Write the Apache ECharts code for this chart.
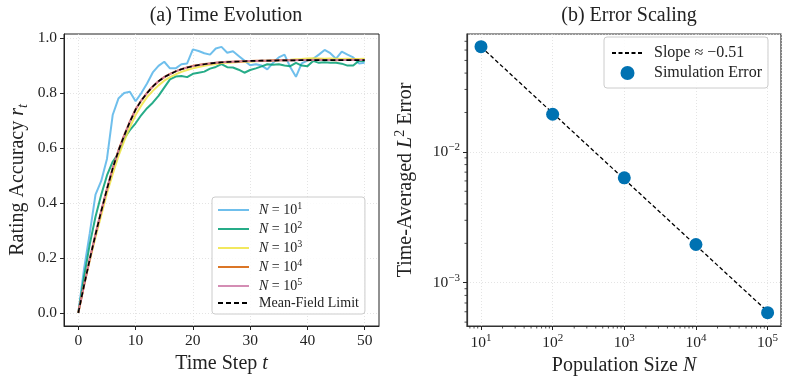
<!DOCTYPE html>
<html>
<head>
<meta charset="utf-8">
<script src="https://cdn.jsdelivr.net/npm/echarts@6/dist/echarts.min.js"></script>
<style>
html, body { margin: 0; padding: 0; background: #fff; }
#chart { width: 793px; height: 385px; }
</style>
</head>
<body>
<div id="chart"></div>
<script>
// (a) rating accuracy per time step t = 0..50
const meanField = [
  0.000, 0.100, 0.195, 0.285, 0.370, 0.450, 0.525, 0.590, 0.645, 0.695,
  0.740, 0.773, 0.800, 0.824, 0.843, 0.858, 0.869, 0.879, 0.887, 0.893,
  0.898, 0.902, 0.905, 0.908, 0.910, 0.912, 0.913, 0.914, 0.915, 0.916,
  0.917, 0.917, 0.918, 0.918, 0.918, 0.919, 0.919, 0.919, 0.919, 0.920,
  0.920, 0.920, 0.920, 0.920, 0.920, 0.920, 0.920, 0.920, 0.920, 0.920,
  0.920
];
const acc10 = [
  0.000, 0.160, 0.290, 0.430, 0.480, 0.560, 0.720, 0.780, 0.800, 0.805,
  0.770, 0.800, 0.835, 0.875, 0.899, 0.914, 0.890, 0.890, 0.905, 0.908,
  0.959, 0.953, 0.945, 0.940, 0.962, 0.968, 0.947, 0.952, 0.935, 0.918,
  0.901, 0.905, 0.900, 0.886, 0.910, 0.930, 0.940, 0.895, 0.859, 0.908,
  0.918, 0.925, 0.940, 0.957, 0.945, 0.925, 0.951, 0.940, 0.930, 0.908,
  0.910
];
const acc100 = [
  0.000, 0.130, 0.250, 0.350, 0.430, 0.500, 0.550, 0.580, 0.635, 0.665,
  0.690, 0.720, 0.745, 0.765, 0.790, 0.820, 0.850, 0.860, 0.862, 0.858,
  0.870, 0.874, 0.878, 0.889, 0.895, 0.905, 0.894, 0.893, 0.885, 0.874,
  0.884, 0.890, 0.897, 0.905, 0.903, 0.905, 0.900, 0.898, 0.910, 0.900,
  0.898, 0.917, 0.910, 0.912, 0.910, 0.910, 0.907, 0.900, 0.900, 0.918,
  0.917
];
const acc1000 = [
  0.000, 0.100, 0.190, 0.275, 0.355, 0.435, 0.505, 0.570, 0.625, 0.675,
  0.720, 0.755, 0.785, 0.808, 0.828, 0.845, 0.858, 0.868, 0.877, 0.884,
  0.890, 0.895, 0.899, 0.903, 0.906, 0.909, 0.910, 0.911, 0.913, 0.915,
  0.914, 0.916, 0.917, 0.918, 0.917, 0.919, 0.920, 0.921, 0.923, 0.924,
  0.926, 0.927, 0.926, 0.925, 0.926, 0.925, 0.924, 0.925, 0.924, 0.924,
  0.925
];
const acc10000 = [
  0.000, 0.100, 0.196, 0.286, 0.371, 0.451, 0.526, 0.591, 0.646, 0.696,
  0.741, 0.773, 0.801, 0.824, 0.843, 0.858, 0.870, 0.879, 0.887, 0.893,
  0.899, 0.902, 0.906, 0.908, 0.910, 0.912, 0.914, 0.914, 0.915, 0.916,
  0.917, 0.918, 0.918, 0.918, 0.919, 0.919, 0.920, 0.919, 0.920, 0.920,
  0.919, 0.920, 0.921, 0.920, 0.920, 0.919, 0.920, 0.920, 0.921, 0.920,
  0.920
];
const acc100000 = [
  0.000, 0.100, 0.195, 0.285, 0.370, 0.450, 0.525, 0.590, 0.645, 0.695,
  0.740, 0.773, 0.800, 0.824, 0.843, 0.858, 0.869, 0.879, 0.887, 0.893,
  0.898, 0.902, 0.905, 0.908, 0.910, 0.912, 0.913, 0.914, 0.915, 0.916,
  0.917, 0.917, 0.918, 0.918, 0.918, 0.919, 0.919, 0.919, 0.919, 0.920,
  0.920, 0.920, 0.920, 0.920, 0.920, 0.920, 0.920, 0.920, 0.920, 0.920,
  0.920
];
const timeTicks = [0, 10, 20, 30, 40, 50];
const accTicks = [0, 0.2, 0.4, 0.6, 0.8, 1.0];

// (b) error vs population size
const popSizes = [10, 100, 1000, 10000, 100000];
const simError = [0.0637, 0.0194, 0.00634, 0.00196, 0.00059];
const slopeFit = [0.0636, 0.0198, 0.00618, 0.00193, 0.000602];
const slopeLabel = 'Slope \u2248 \u22120.51';

const FONT = 'Liberation Serif';
const INK = '#222';

function richWith(size) {
  return {
    i: { fontFamily: FONT, fontStyle: 'italic', fontSize: size, color: INK },
    sup: { fontFamily: FONT, fontSize: Math.round(size * 0.7), padding: [0, 0, Math.round(size * 0.6), 0], color: INK },
    sub: { fontFamily: FONT, fontStyle: 'italic', fontSize: Math.round(size * 0.7), padding: [Math.round(size * 0.5), 0, 0, 0], color: INK },
    n: { fontFamily: FONT, fontSize: size, color: INK }
  };
}

const lineColors = ['#56B4E9', '#009E73', '#F0E442', '#D55E00', '#CC79A7'];
const accSeries = [acc10, acc100, acc1000, acc10000, acc100000];
const accNames = ['N = 10^1', 'N = 10^2', 'N = 10^3', 'N = 10^4', 'N = 10^5'];

function pow10Label(v) {
  const e = Math.round(Math.log10(v));
  return '10{sup|' + (e < 0 ? '\u2212' + (-e) : e) + '}';
}

const minorX = [];
const minorY = [];
for (let e = 0; e <= 5; e++) {
  for (let m = 2; m <= 9; m++) minorX.push(m * Math.pow(10, e));
}
for (let e = -4; e <= -2; e++) {
  for (let m = 2; m <= 9; m++) minorY.push(m * Math.pow(10, e));
}
const xMinR = 6.38, xMaxR = 153800, yMinR = 0.000467, yMaxR = 0.0796;

const chart = echarts.init(document.getElementById('chart'), null, { renderer: 'canvas' });

const lineSeries = accSeries.map((arr, k) => ({
  name: accNames[k],
  type: 'line',
  xAxisIndex: 0,
  yAxisIndex: 0,
  data: arr.map((v, t) => [t, v]),
  showSymbol: false,
  symbol: 'none',
  lineStyle: { color: lineColors[k], width: 2, opacity: 0.85 },
  itemStyle: { color: lineColors[k], opacity: 0.85 },
  z: 2 + k
}));

const axisBase = {
  axisLine: { show: true, onZero: false, lineStyle: { color: INK, width: 1 } },
  axisTick: { show: true, inside: false, length: 4, lineStyle: { color: INK } },
  splitLine: { show: true, lineStyle: { color: '#ddd', type: [1, 2], width: 0.8 } },
  axisLabel: { fontFamily: FONT, fontSize: 15.5, color: INK }
};

function tickMarks(values, axis) {
  return {
    type: 'custom',
    xAxisIndex: 1,
    yAxisIndex: 1,
    silent: true,
    clip: false,
    z: 10,
    data: values.filter(v => axis === 'x' ? (v > xMinR && v < xMaxR) : (v > yMinR && v < yMaxR))
      .map(v => axis === 'x' ? [v, yMinR] : [xMinR, v]),
    renderItem: function (params, api) {
      const p = api.coord([api.value(0), api.value(1)]);
      const shape = axis === 'x'
        ? { x1: p[0], y1: p[1], x2: p[0], y2: p[1] + 2.5 }
        : { x1: p[0], y1: p[1], x2: p[0] - 2.5, y2: p[1] };
      return { type: 'line', shape: shape, style: { stroke: INK, lineWidth: 0.8 } };
    }
  };
}

const noSymbol = { opacity: 0 };
const legendBox = {
  orient: 'vertical',
  backgroundColor: 'rgba(255,255,255,0.85)',
  borderColor: '#ccc', borderWidth: 1, borderRadius: 3
};

const option = {
  animation: false,
  backgroundColor: '#fff',
  textStyle: { fontFamily: FONT },
  title: [
    { text: '(a) Time Evolution', left: 221, top: 1, textAlign: 'center',
      textStyle: { fontFamily: FONT, fontSize: 20, fontWeight: 'normal', color: INK } },
    { text: '(b) Error Scaling', left: 624, top: 1, textAlign: 'center',
      textStyle: { fontFamily: FONT, fontSize: 20, fontWeight: 'normal', color: INK } }
  ],
  grid: [
    { left: 64, top: 34, width: 315, height: 292, show: true, borderColor: INK, borderWidth: 1 },
    { left: 467, top: 34, width: 314, height: 292, show: true, borderColor: '#333', borderWidth: 1.2 }
  ],
  legend: [
    Object.assign({}, legendBox, {
      data: accNames.concat(['Mean-Field Limit']).map(n => ({ name: n, itemStyle: noSymbol })),
      left: 212, top: 197,
      itemWidth: 31, itemHeight: 14, itemGap: 3,
      padding: [4, 6, 4, 5],
      formatter: function (name) {
        if (name === 'Mean-Field Limit') return '{n|Mean-Field Limit}';
        const e = name.split('^')[1];
        return '{i|N} {n|= 10}{sup|' + e + '}';
      },
      textStyle: { fontFamily: FONT, fontSize: 14, color: INK, padding: [0, 0, 0, 5], rich: richWith(14) }
    }),
    Object.assign({}, legendBox, {
      data: [{ name: slopeLabel, itemStyle: noSymbol }, { name: 'Simulation Error' }],
      left: 604, top: 37,
      itemWidth: 31, itemHeight: 14, itemGap: 4,
      padding: [8, 6, 7, 7],
      textStyle: { fontFamily: FONT, fontSize: 16, color: INK, padding: [0, 0, 0, 6] }
    })
  ],
  xAxis: [
    Object.assign({}, axisBase, {
      type: 'value', gridIndex: 0, min: -2.5, max: 52.5,
      name: 'Time Step {i|t}', nameLocation: 'middle', nameGap: 27,
      nameTextStyle: { fontFamily: FONT, fontSize: 20, color: INK, rich: richWith(20) },
      axisTick: Object.assign({}, axisBase.axisTick, { customValues: timeTicks }),
      axisLabel: Object.assign({}, axisBase.axisLabel, { customValues: timeTicks, margin: 7 })
    }),
    Object.assign({}, axisBase, {
      type: 'log', gridIndex: 1, min: xMinR, max: xMaxR, logBase: 10,
      name: 'Population Size {i|N}', nameLocation: 'middle', nameGap: 27,
      nameTextStyle: { fontFamily: FONT, fontSize: 20, color: INK, rich: richWith(20) },
      axisLine: { show: true, onZero: false, lineStyle: { color: '#333', width: 1.2 } },
      axisLabel: Object.assign({}, axisBase.axisLabel, {
        showMinLabel: false, showMaxLabel: false, margin: 7,
        formatter: pow10Label, rich: richWith(15.5)
      })
    })
  ],
  yAxis: [
    Object.assign({}, axisBase, {
      type: 'value', gridIndex: 0, min: -0.048, max: 1.015,
      name: 'Rating Accuracy {i|r}{sub|t}', nameLocation: 'middle', nameGap: 34,
      nameTextStyle: { fontFamily: FONT, fontSize: 20, color: INK, rich: richWith(20) },
      axisTick: Object.assign({}, axisBase.axisTick, { customValues: accTicks }),
      axisLabel: Object.assign({}, axisBase.axisLabel, {
        customValues: accTicks, margin: 7,
        formatter: v => v.toFixed(1)
      })
    }),
    Object.assign({}, axisBase, {
      type: 'log', gridIndex: 1, min: yMinR, max: yMaxR, logBase: 10,
      name: 'Time-Averaged {i|L}{sup|2} Error', nameLocation: 'middle', nameGap: 48,
      nameTextStyle: { fontFamily: FONT, fontSize: 20, color: INK, rich: richWith(20) },
      axisLine: { show: true, onZero: false, lineStyle: { color: '#333', width: 1.2 } },
      axisLabel: Object.assign({}, axisBase.axisLabel, {
        showMinLabel: false, showMaxLabel: false, margin: 7,
        formatter: pow10Label, rich: richWith(15.5)
      })
    })
  ],
  series: lineSeries.concat([
    {
      name: 'Mean-Field Limit',
      type: 'line',
      xAxisIndex: 0, yAxisIndex: 0,
      data: meanField.map((v, t) => [t, v]),
      showSymbol: false, symbol: 'none',
      lineStyle: { color: '#000', width: 1.6, type: [5, 3] },
      itemStyle: { color: '#000' },
      z: 9
    },
    {
      name: slopeLabel,
      type: 'line',
      xAxisIndex: 1, yAxisIndex: 1,
      data: popSizes.map((n, k) => [n, slopeFit[k]]),
      showSymbol: false, symbol: 'none',
      lineStyle: { color: '#000', width: 1.3, type: [4, 2.5] },
      itemStyle: { color: '#000' },
      z: 3
    },
    {
      name: 'Simulation Error',
      type: 'scatter',
      xAxisIndex: 1, yAxisIndex: 1,
      data: popSizes.map((n, k) => [n, simError[k]]),
      symbol: 'circle', symbolSize: 13,
      itemStyle: { color: '#0072B2', opacity: 1 },
      z: 4
    },
    tickMarks(minorX, 'x'),
    tickMarks(minorY, 'y')
  ])
};

chart.setOption(option);
</script>
</body>
</html>
